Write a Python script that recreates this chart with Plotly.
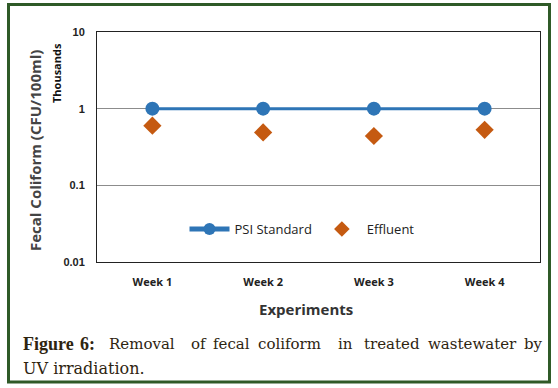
import plotly.graph_objects as go

weeks = ["Week 1", "Week 2", "Week 3", "Week 4"]
psi_standard = [1.0, 1.0, 1.0, 1.0]
effluent = [0.60, 0.49, 0.44, 0.53]
ytick_vals = [0.01, 0.1, 1, 10]
ytick_text = ["0.01", "0.1", "1", "10"]

W, H = 558, 388
PL, PT, PR, PB = 97, 32, 540, 262          # plot area in page coordinates
L, T, R, B = PL, PT, W - PR, H - PB
pw, ph = PR - PL, PB - PT

def px(x):
    return (x - PL) / pw

def py(y):
    return (PB - y) / ph

fig = go.Figure()
fig.add_trace(go.Scatter(
    x=weeks, y=psi_standard, name="PSI Standard", mode="lines+markers",
    line=dict(color="#2e75b6", width=3),
    marker=dict(symbol="circle", size=14, color="#2e75b6"),
))
fig.add_trace(go.Scatter(
    x=weeks, y=effluent, name="Effluent", mode="markers",
    marker=dict(symbol="diamond", size=14, color="#c55a11"),
))

fig.update_layout(
    width=W, height=H,
    margin=dict(l=L, r=R, t=T, b=B),
    paper_bgcolor="white", plot_bgcolor="white",
    showlegend=True,
    legend=dict(orientation="h", x=px(302), xanchor="center", y=py(229), yanchor="middle",
                font=dict(family="Open Sans", size=13, color="#222"),
                bgcolor="rgba(0,0,0,0)", itemwidth=40, tracegroupgap=0,
                itemsizing="constant"),
    font=dict(family="Liberation Sans"),
)
fig.update_xaxes(
    type="category", range=[-0.5, 3.5], showgrid=False, zeroline=False,
    showline=True, linecolor="#222", linewidth=1, mirror=True, ticks="",
    tickfont=dict(family="Open Sans", size=11, color="#222", weight="bold"),
    ticklabelstandoff=10,
)
fig.update_yaxes(
    type="log", range=[-2, 1], tickvals=ytick_vals, ticktext=ytick_text,
    showgrid=True, gridcolor="#8c8c8c", gridwidth=1, zeroline=False,
    showline=True, linecolor="#222", linewidth=1, mirror=True, ticks="",
    tickfont=dict(family="Liberation Sans", size=11, color="#222", weight="bold"),
    ticklabelstandoff=9,
)

# axis titles / units label
fig.add_annotation(text="Experiments", showarrow=False,
                   xref="paper", yref="paper", x=px(306), y=py(309),
                   xanchor="center", yanchor="middle",
                   font=dict(family="Open Sans", size=15, color="#333", weight="bold"))
fig.add_annotation(text="Fecal Coliform (CFU/100ml)", textangle=-90, showarrow=False,
                   xref="paper", yref="paper", x=px(35), y=py(151),
                   xanchor="center", yanchor="middle",
                   font=dict(family="Open Sans", size=15, color="#444", weight="bold"))
fig.add_annotation(text="Thousands", textangle=-90, showarrow=False,
                   xref="paper", yref="paper", x=px(56), y=py(73),
                   xanchor="center", yanchor="middle",
                   font=dict(family="Open Sans", size=11, color="#111", weight="bold"))

# caption (justified first line: each word placed at its left edge)
cap_color = "#2e2410"
cap_font = dict(family="DejaVu Serif", size=15, color=cap_color)
bold_font = dict(family="Liberation Serif", size=18, color=cap_color, weight="bold")
line1 = [("Figure", 22, True), ("6:", 79, True), ("Removal", 108, False), ("of", 190, False),
         ("fecal", 212, False), ("coliform", 257, False), ("in", 337, False),
         ("treated", 363, False), ("wastewater", 427, False), ("by", 523, False)]
for word, xw, bold in line1:
    fig.add_annotation(text=word, showarrow=False, xref="paper", yref="paper",
                       x=px(xw), y=py(344), xanchor="left", yanchor="middle",
                       xshift=-1, font=bold_font if bold else cap_font)
fig.add_annotation(text="UV irradiation.",
                   showarrow=False, xref="paper", yref="paper", x=px(22), y=py(368),
                   xanchor="left", yanchor="middle", xshift=-1,
                   font=dict(family="DejaVu Serif", size=16, color=cap_color))

# outer frame
fig.add_shape(type="rect", xref="paper", yref="paper",
              x0=px(8.5), x1=px(549.5), y0=py(382), y1=py(4.5),
              line=dict(color="#2f5a28", width=3), fillcolor="rgba(0,0,0,0)", layer="below")

fig.write_html("out.html", config={"displayModeBar": False},
               post_script="document.body.style.margin='0px';")
